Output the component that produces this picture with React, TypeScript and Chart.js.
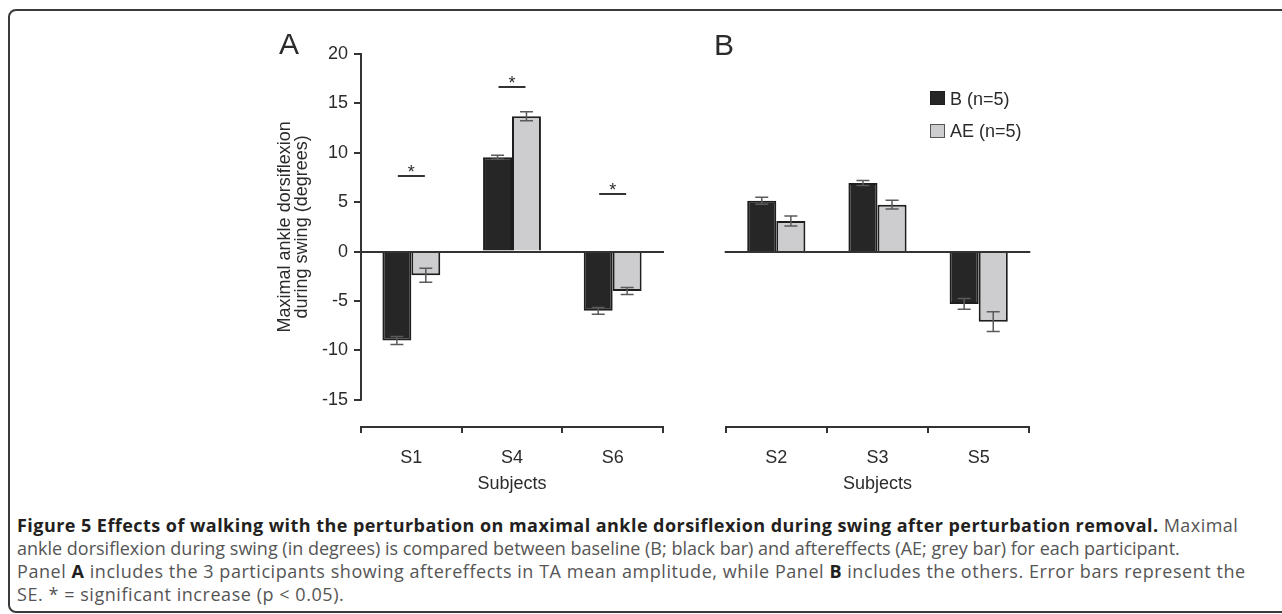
import React, { useEffect, useRef } from 'react';
import { Chart, registerables } from 'chart.js';

Chart.register(...registerables);

// ---------- data ----------
const seriesLabels = ['B (n=5)', 'AE (n=5)'];
const xTitle = 'Subjects';
const yTitle = ['Maximal ankle dorsiflexion', 'during swing (degrees)'];

const panelACategories = ['S1', 'S4', 'S6'];
const panelABaseline = [-9.0, 9.55, -6.0];
const panelAAfter = [-2.4, 13.7, -4.0];
const panelABaselineErr = [0.4, 0.2, 0.35];
const panelAAfterErr = [0.7, 0.45, 0.35];
const panelASignificance = [7.6, 16.7, 5.8];

const panelBCategories = ['S2', 'S3', 'S5'];
const panelBBaseline = [5.15, 6.95, -5.3];
const panelBAfter = [3.1, 4.75, -7.1];
const panelBBaselineErr = [0.35, 0.25, 0.55];
const panelBAfterErr = [0.5, 0.45, 1.0];
const panelBSignificance: (number | null)[] = [null, null, null];

const yMin = -17.76;
const yMax = 20;
const yStep = 5;

// ---------- styles ----------
const FONT = '"Liberation Sans", Arial, sans-serif';
const INK = '#2b2b2b';
const AXIS = '#333333';
const BLACK_BAR = '#262626';
const GREY_BAR = '#cdcdcf';

type PanelProps = {
  left: number;
  top: number;
  width: number;
  height: number;
  categories: string[];
  baseline: number[];
  after: number[];
  baselineErr: number[];
  afterErr: number[];
  significance: (number | null)[];
  showY: boolean;
  padLeft: number;
  padRight: number;
};

function Panel(p: PanelProps) {
  const ref = useRef<HTMLCanvasElement | null>(null);

  useEffect(() => {
    if (!ref.current) return;
    const errs = [p.baselineErr, p.afterErr];

    const overlay = {
      id: 'overlay',
      afterDatasetsDraw(chart: any) {
        const { ctx, chartArea } = chart;
        const x = chart.scales.x;
        const y = chart.scales.y;
        ctx.save();
        ctx.lineCap = 'butt';
        // zero line
        const y0 = Math.round(y.getPixelForValue(0));
        ctx.strokeStyle = AXIS;
        ctx.lineWidth = 2;
        ctx.beginPath();
        ctx.moveTo(chartArea.left - 1, y0);
        ctx.lineTo(chartArea.right + 1, y0);
        ctx.stroke();
        if (p.showY) {
          // y axis line (from top tick to lowest labelled tick)
          const ticks = y.ticks;
          const lo = ticks[0].value;
          const hi = ticks[ticks.length - 1].value;
          const yTop = y.getPixelForValue(hi);
          const yBot = y.getPixelForValue(lo);
          ctx.beginPath();
          ctx.moveTo(chartArea.left, yTop - 1);
          ctx.lineTo(chartArea.left, yBot + 1);
          ctx.stroke();
          // y axis title, centred on the drawn axis line
          ctx.save();
          ctx.fillStyle = INK;
          ctx.font = `18px ${FONT}`;
          ctx.textAlign = 'center';
          ctx.textBaseline = 'middle';
          ctx.translate(chartArea.left - 76, (yTop + yBot) / 2);
          ctx.rotate(-Math.PI / 2);
          yTitle.forEach((line, i) => ctx.fillText(line, 0, i * 17));
          ctx.restore();
        }
        // error bars
        ctx.strokeStyle = '#5a5a5a';
        ctx.lineWidth = 1.5;
        chart.data.datasets.forEach((ds: any, di: number) => {
          const meta = chart.getDatasetMeta(di);
          meta.data.forEach((bar: any, i: number) => {
            const v = ds.data[i];
            const e = errs[di][i];
            const yt = y.getPixelForValue(v + e);
            const yb = y.getPixelForValue(v - e);
            const cx = bar.x;
            ctx.beginPath();
            ctx.moveTo(cx, yt);
            ctx.lineTo(cx, yb);
            ctx.moveTo(cx - 6.5, yt);
            ctx.lineTo(cx + 6.5, yt);
            ctx.moveTo(cx - 6.5, yb);
            ctx.lineTo(cx + 6.5, yb);
            ctx.stroke();
          });
        });
        // significance markers
        ctx.strokeStyle = AXIS;
        ctx.lineWidth = 2;
        ctx.fillStyle = INK;
        ctx.font = `18px ${FONT}`;
        ctx.textAlign = 'center';
        ctx.textBaseline = 'alphabetic';
        p.significance.forEach((s, i) => {
          if (s === null || s === undefined) return;
          const cx = x.getPixelForValue(i);
          const sy = Math.round(y.getPixelForValue(s));
          ctx.beginPath();
          ctx.moveTo(cx - 13.5, sy);
          ctx.lineTo(cx + 13.5, sy);
          ctx.stroke();
          ctx.fillText('*', cx, sy + 2);
        });
        ctx.restore();
      },
    };

    const chart = new Chart(ref.current, {
      type: 'bar',
      data: {
        labels: p.categories,
        datasets: [
          {
            label: seriesLabels[0],
            data: p.baseline,
            backgroundColor: BLACK_BAR,
            borderColor: '#1e1e1e',
            borderWidth: 2,
            categoryPercentage: 0.575,
            barPercentage: 1.0,
          },
          {
            label: seriesLabels[1],
            data: p.after,
            backgroundColor: GREY_BAR,
            borderColor: '#1e1e1e',
            borderWidth: 2,
            categoryPercentage: 0.575,
            barPercentage: 1.0,
          },
        ],
      },
      options: {
        responsive: false,
        animation: false,
        devicePixelRatio: 1,
        layout: { padding: { left: p.padLeft, right: p.padRight, top: 24, bottom: 0 } },
        plugins: {
          legend: { display: false },
          tooltip: { enabled: false },
          title: { display: false },
        },
        scales: {
          x: {
            type: 'category',
            grid: {
              offset: true,
              drawOnChartArea: false,
              drawTicks: true,
              tickLength: 6,
              color: AXIS,
              lineWidth: 2,
            },
            border: { display: true, color: AXIS, width: 2 },
            ticks: {
              color: INK,
              font: { family: FONT, size: 18 },
              padding: 14,
              maxRotation: 0,
            },
            title: {
              display: true,
              text: xTitle,
              color: INK,
              font: { family: FONT, size: 18, lineHeight: 1.2 },
              padding: { top: 0, bottom: 15 },
            },
            afterFit: (scale: any) => {
              scale.height = 83;
            },
          },
          y: {
            display: p.showY,
            min: yMin,
            max: yMax,
            grid: {
              drawOnChartArea: false,
              drawTicks: true,
              tickLength: 7,
              color: AXIS,
              lineWidth: 2,
            },
            border: { display: false },
            ticks: {
              stepSize: yStep,
              includeBounds: false,
              color: INK,
              font: { family: FONT, size: 18 },
              padding: 6,
            },
            title: { display: false },
            afterFit: (scale: any) => {
              scale.width = p.showY ? 111 : 0;
            },
          },
        },
      },
      plugins: [overlay],
    } as any);

    return () => chart.destroy();
  }, []);

  return (
    <canvas
      ref={ref}
      width={p.width}
      height={p.height}
      style={{ position: 'absolute', left: p.left, top: p.top, width: p.width, height: p.height }}
    />
  );
}

const captionStyle: React.CSSProperties = {
  position: 'absolute',
  left: 17,
  whiteSpace: 'nowrap',
  fontFamily: '"Open Sans", "Noto Sans", sans-serif',
  fontSize: 18,
  lineHeight: '23px',
  color: '#555555',
};

export default function App() {
  return (
    <div
      style={{
        position: 'absolute',
        left: 0,
        top: 0,
        width: 1282,
        height: 614,
        overflow: 'hidden',
        background: '#ffffff',
      }}
    >
      <div
        style={{
          position: 'absolute',
          left: 8,
          top: 9,
          width: 1320,
          height: 600,
          border: '2px solid #3a3a3a',
          borderRadius: 8,
        }}
      />
      <Panel
        left={250}
        top={30}
        width={430}
        height={480}
        categories={panelACategories}
        baseline={panelABaseline}
        after={panelAAfter}
        baselineErr={panelABaselineErr}
        afterErr={panelAAfterErr}
        significance={panelASignificance}
        showY={true}
        padLeft={0}
        padRight={17}
      />
      <Panel
        left={700}
        top={30}
        width={350}
        height={480}
        categories={panelBCategories}
        baseline={panelBBaseline}
        after={panelBAfter}
        baselineErr={panelBBaselineErr}
        afterErr={panelBAfterErr}
        significance={panelBSignificance}
        showY={false}
        padLeft={25.7}
        padRight={20.7}
      />
      <div style={{ position: 'absolute', left: 279, top: 27, font: `30px ${FONT}`, color: INK, lineHeight: '34px' }}>A</div>
      <div style={{ position: 'absolute', left: 714, top: 28, font: `30px ${FONT}`, color: INK, lineHeight: '34px' }}>B</div>
      {/* legend */}
      <div style={{ position: 'absolute', left: 930, top: 91, width: 15, height: 14, background: BLACK_BAR, border: '1px solid #1e1e1e', boxSizing: 'border-box' }} />
      <div style={{ position: 'absolute', left: 950, top: 89, font: `18px ${FONT}`, color: INK, lineHeight: '20px' }}>{seriesLabels[0]}</div>
      <div style={{ position: 'absolute', left: 930, top: 124, width: 15, height: 14, background: GREY_BAR, border: '1px solid #555', boxSizing: 'border-box' }} />
      <div style={{ position: 'absolute', left: 950, top: 121, font: `18px ${FONT}`, color: INK, lineHeight: '20px' }}>{seriesLabels[1]}</div>
      {/* caption */}
      <div style={{ ...captionStyle, top: 514, letterSpacing: 0.45 }}>
        <b style={{ color: '#231f20' }}>
          Figure 5 Effects of walking with the perturbation on maximal ankle dorsiflexion during swing after perturbation removal.
        </b>{' '}
        Maximal
      </div>
      <div style={{ ...captionStyle, top: 537, letterSpacing: 0 }}>
        ankle dorsiflexion during swing (in degrees) is compared between baseline (B; black bar) and aftereffects (AE; grey bar) for each participant.
      </div>
      <div style={{ ...captionStyle, top: 560, letterSpacing: 0.55 }}>
        Panel <b style={{ color: '#231f20' }}>A</b> includes the 3 participants showing aftereffects in TA mean amplitude, while Panel{' '}
        <b style={{ color: '#231f20' }}>B</b> includes the others. Error bars represent the
      </div>
      <div style={{ ...captionStyle, top: 583, letterSpacing: 0.55 }}>SE. * = significant increase (p &lt; 0.05).</div>
    </div>
  );
}
